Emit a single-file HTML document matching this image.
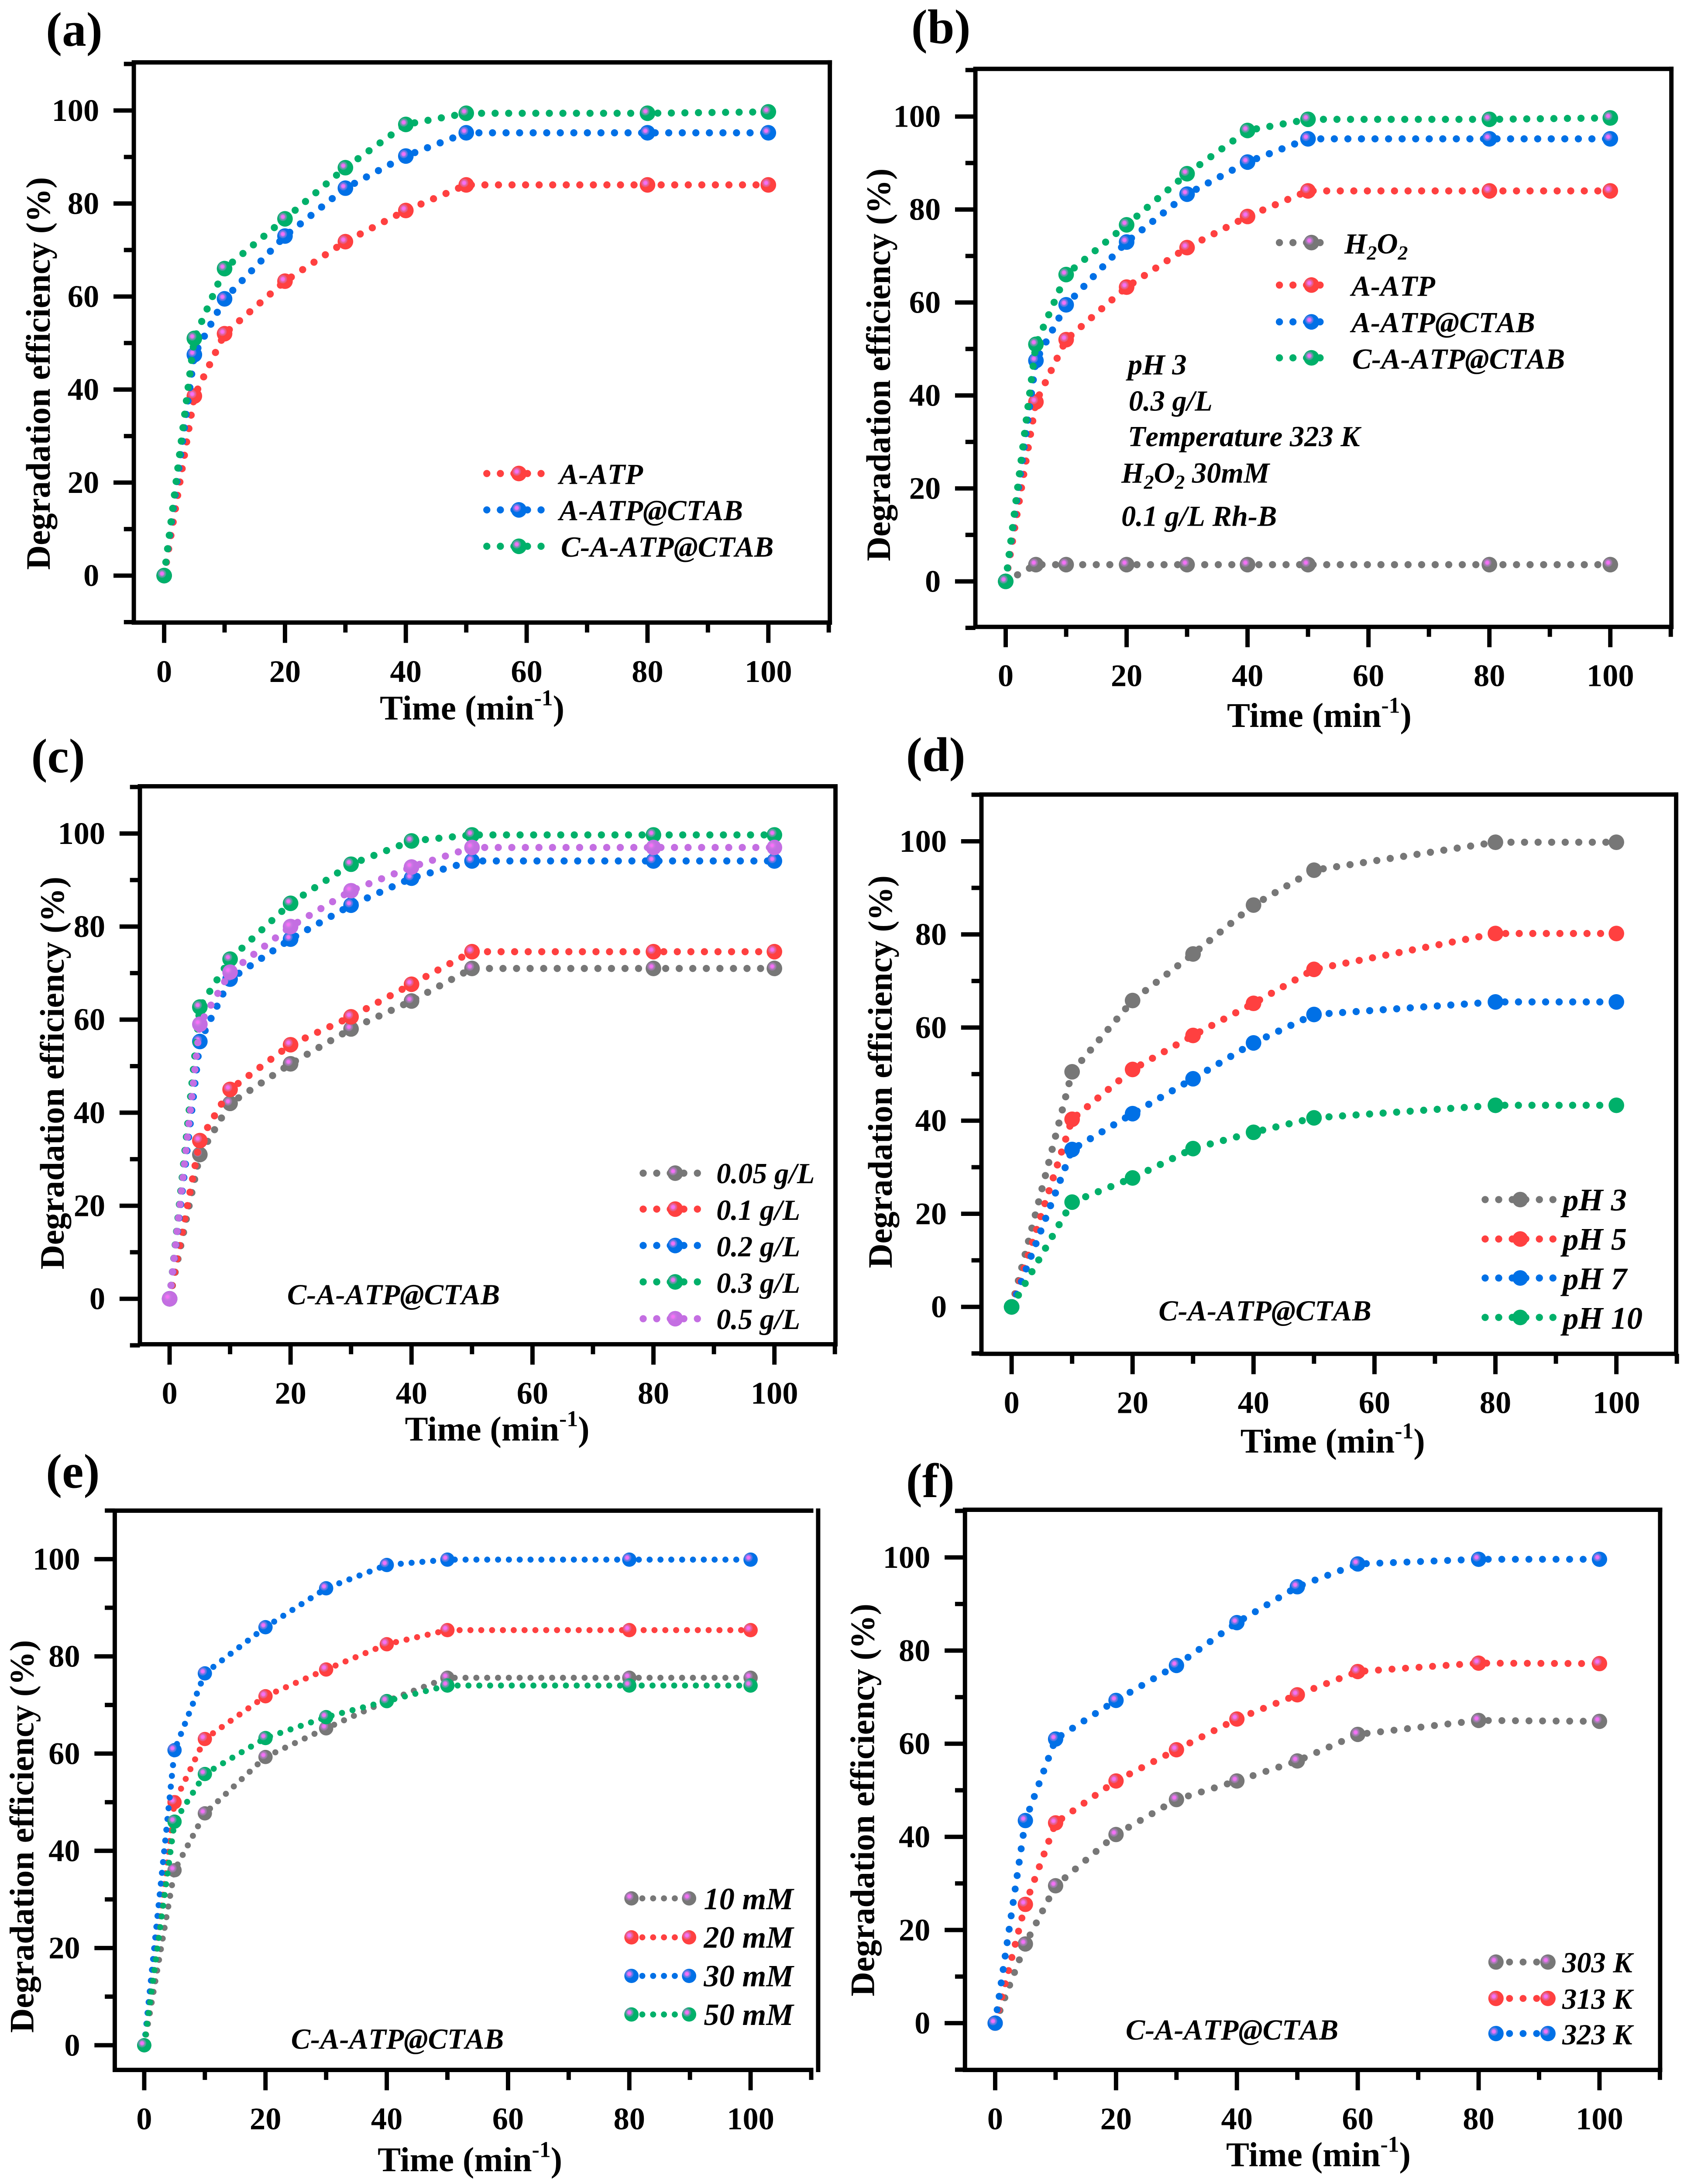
<!DOCTYPE html>
<html lang="en">
<head>
<meta charset="utf-8">
<title>Degradation efficiency panels</title>
<style>
html,body{margin:0;padding:0;background:#fff;width:100%;height:100%;overflow:hidden;}
svg{display:block;height:100vh;width:calc(100vh * 3913 / 5039);}
text{font-family:"Liberation Serif",serif;fill:#000;}
.tick{font-weight:bold;font-size:73px;}
.title{font-weight:bold;font-size:80px;}
.ytitle{font-weight:bold;font-size:78.5px;}
.plabel{font-weight:bold;font-size:112px;}
.leg{font-weight:bold;font-style:italic;font-size:67px;font-kerning:none;}
.leg-big{font-weight:bold;font-style:italic;font-size:73px;font-kerning:none;}
.leg-mid{font-weight:bold;font-style:italic;font-size:71px;font-kerning:none;}
</style>
</head>
<body>
<svg id="figure" xmlns="http://www.w3.org/2000/svg" viewBox="0 0 3913 5039" preserveAspectRatio="xMinYMin meet">
<defs>
<radialGradient id="glow">
<stop offset="0" stop-color="#ff70ff" stop-opacity="1"/>
<stop offset="0.4" stop-color="#f070f4" stop-opacity="0.95"/>
<stop offset="0.6" stop-color="#d480e4" stop-opacity="0.6"/>
<stop offset="1" stop-color="#c080e0" stop-opacity="0.25"/>
</radialGradient>
</defs>
<rect width="3913" height="5039" fill="#fff"/>
<g id="plots"></g>

<g>
<text class="plabel" x="106" y="106">(a)</text>
<text class="title" x="1090" y="1661" text-anchor="middle">Time (min<tspan font-size="52" dy="-33">-1</tspan><tspan dy="33">)</tspan></text>
<text class="ytitle" transform="translate(115 862) rotate(-90)" text-anchor="middle">Degradation efficiency (%)</text>
<text class="leg" x="1291" y="1117">A-ATP</text>
<text class="leg" x="1291" y="1201">A-ATP@CTAB</text>
<text class="leg" x="1295" y="1285">C-A-ATP@CTAB</text>
</g>

<g>
<text class="plabel" x="2104" y="100">(b)</text>
<text class="title" x="3046" y="1678" text-anchor="middle">Time (min<tspan font-size="52" dy="-33">-1</tspan><tspan dy="33">)</tspan></text>
<text class="ytitle" transform="translate(2055 842) rotate(-90)" text-anchor="middle">Degradation efficiency (%)</text>
<text class="leg" x="3104" y="585">H<tspan font-size="46" dy="14">2</tspan><tspan dy="-14">O</tspan><tspan font-size="46" dy="14">2</tspan></text>
<text class="leg" x="3120" y="683">A-ATP</text>
<text class="leg" x="3120" y="767">A-ATP@CTAB</text>
<text class="leg" x="3122" y="851">C-A-ATP@CTAB</text>
<text class="leg" x="2604" y="864">pH 3</text>
<text class="leg" x="2606" y="948">0.3 g/L</text>
<text class="leg" x="2604" y="1030">Temperature 323 K</text>
<text class="leg" x="2589" y="1114">H<tspan font-size="46" dy="14">2</tspan><tspan dy="-14">O</tspan><tspan font-size="46" dy="14">2</tspan><tspan dy="-14"> 30mM</tspan></text>
<text class="leg" x="2589" y="1214">0.1 g/L Rh-B</text>
</g>

<g>
<text class="plabel" x="72" y="1783">(c)</text>
<text class="title" x="1148" y="3325" text-anchor="middle">Time (min<tspan font-size="52" dy="-33">-1</tspan><tspan dy="33">)</tspan></text>
<text class="ytitle" transform="translate(147 2477) rotate(-90)" text-anchor="middle">Degradation efficiency (%)</text>
<text class="leg" x="1654" y="2731">0.05 g/L</text>
<text class="leg" x="1654" y="2816">0.1 g/L</text>
<text class="leg" x="1654" y="2900">0.2 g/L</text>
<text class="leg" x="1654" y="2984">0.3 g/L</text>
<text class="leg" x="1654" y="3068">0.5 g/L</text>
<text class="leg" x="663" y="3011">C-A-ATP@CTAB</text>
</g>

<g>
<text class="plabel" x="2092" y="1780">(d)</text>
<text class="title" x="3077" y="3353" text-anchor="middle">Time (min<tspan font-size="52" dy="-33">-1</tspan><tspan dy="33">)</tspan></text>
<text class="ytitle" transform="translate(2059 2474) rotate(-90)" text-anchor="middle">Degradation efficiency (%)</text>
<text class="leg-big" x="3608" y="2794">pH 3</text>
<text class="leg-big" x="3608" y="2885">pH 5</text>
<text class="leg-big" x="3608" y="2976">pH 7</text>
<text class="leg-big" x="3608" y="3067">pH 10</text>
<text class="leg" x="2675" y="3048">C-A-ATP@CTAB</text>
</g>

<g>
<text class="plabel" x="106" y="3434">(e)</text>
<text class="title" x="1085" y="5012" text-anchor="middle">Time (min<tspan font-size="52" dy="-33">-1</tspan><tspan dy="33">)</tspan></text>
<text class="ytitle" transform="translate(77 4239) rotate(-90)" text-anchor="middle">Degradation efficiency (%)</text>
<text class="leg-mid" x="1625" y="4407">10 mM</text>
<text class="leg-mid" x="1625" y="4496">20 mM</text>
<text class="leg-mid" x="1625" y="4585">30 mM</text>
<text class="leg-mid" x="1625" y="4674">50 mM</text>
<text class="leg" x="672" y="4729">C-A-ATP@CTAB</text>
</g>

<g>
<text class="plabel" x="2092" y="3456">(f)</text>
<text class="title" x="3044" y="5000" text-anchor="middle">Time (min<tspan font-size="52" dy="-33">-1</tspan><tspan dy="33">)</tspan></text>
<text class="ytitle" transform="translate(2018 4155) rotate(-90)" text-anchor="middle">Degradation efficiency (%)</text>
<text class="leg" x="3607" y="4553">303 K</text>
<text class="leg" x="3607" y="4637">313 K</text>
<text class="leg" x="3607" y="4719">323 K</text>
<text class="leg" x="2599" y="4708">C-A-ATP@CTAB</text>
</g>
</svg>

<script>
// ---- data ----
var xTickLabels = [0, 20, 40, 60, 80, 100];
var xMinorTicks = [10, 30, 50, 70, 90, 110];
var yTickLabels = [0, 20, 40, 60, 80, 100];
var yMinorTicks = [-10, 10, 30, 50, 70, 90, 110];

var timeA = [0, 5, 10, 20, 30, 40, 50, 80, 100];
var aAtpA = [0, 38.6, 52, 63.3, 71.8, 78.5, 84, 84, 84];
var aCtabA = [0, 47.5, 59.5, 73, 83.3, 90.2, 95.2, 95.2, 95.2];
var cCtabA = [0, 51, 66, 76.7, 87.7, 97, 99.4, 99.4, 99.7];

var timeB = [0, 5, 10, 20, 30, 40, 50, 80, 100];
var h2o2B = [0, 3.6, 3.6, 3.6, 3.6, 3.6, 3.6, 3.6, 3.6];
var aAtpB = [0, 38.6, 52, 63.3, 71.8, 78.5, 84, 84, 84];
var aCtabB = [0, 47.5, 59.5, 73, 83.3, 90.2, 95.2, 95.2, 95.2];
var cCtabB = [0, 51, 66, 76.7, 87.7, 97, 99.4, 99.4, 99.7];

var timeC = [0, 5, 10, 20, 30, 40, 50, 80, 100];
var dose005 = [0, 31, 42, 50.5, 58, 64, 71, 71, 71];
var dose01 = [0, 34, 45, 54.6, 60.6, 67.6, 74.6, 74.6, 74.6];
var dose02 = [0, 55.3, 68.7, 77.3, 84.6, 90.4, 94.1, 94.1, 94.1];
var dose03 = [0, 62.7, 73, 85, 93.4, 98.4, 99.7, 99.7, 99.7];
var dose05 = [0, 59, 70.2, 80, 87.7, 92.8, 97, 97, 97];

var timeD = [0, 10, 20, 30, 40, 50, 80, 100];
var ph3 = [0, 50.5, 65.8, 75.8, 86.3, 93.8, 99.8, 99.8];
var ph5 = [0, 40.3, 51, 58.3, 65.2, 72.5, 80.2, 80.2];
var ph7 = [0, 33.8, 41.5, 49, 56.7, 62.8, 65.5, 65.5];
var ph10 = [0, 22.5, 27.7, 34, 37.5, 40.6, 43.3, 43.3];

var timeE = [0, 5, 10, 20, 30, 40, 50, 80, 100];
var mm10 = [0, 36, 47.7, 59.3, 65.2, 70.8, 75.6, 75.6, 75.6];
var mm20 = [0, 50, 63, 71.8, 77.3, 82.5, 85.4, 85.4, 85.4];
var mm30 = [0, 60.7, 76.5, 86, 94, 98.8, 99.9, 99.9, 99.9];
var mm50 = [0, 46, 55.8, 63.2, 67.5, 70.8, 74, 74, 74];

var timeF = [0, 5, 10, 20, 30, 40, 50, 60, 80, 100];
var k303 = [0, 17, 29.5, 40.5, 48, 52, 56.3, 62, 65, 64.8];
var k313 = [0, 25.5, 43, 52, 58.7, 65.3, 70.5, 75.5, 77.3, 77.2];
var k323 = [0, 43.5, 61, 69.3, 76.8, 86, 93.7, 98.6, 99.6, 99.6];

// ---- styles ----
var GRAY = '#777777', RED = '#ff4040', BLUE = '#0070e6', GREEN = '#00b06a', PURPLE = '#c46ee2';

// ---- panel layout ----
var panels = [
 {id:'a', L:309, R:1916, T:144, B:1437, x0:379, x100:1774, y0:1328.7, y100:255, glow:true, dot:16.5, pitch:31.3, mr:18,
  time:timeA, series:[{n:'a-atp',c:RED,v:aAtpA},{n:'a-atp-ctab',c:BLUE,v:aCtabA},{n:'c-a-atp-ctab',c:GREEN,v:cCtabA}],
  key:{x1:1124,x2:1251,m:[1198],y:[1093,1177,1261]}},
 {id:'b', L:2252, R:3859, T:159, B:1447, x0:2322, x100:3718, y0:1342, y100:269, glow:true, dot:16.5, pitch:31.3, mr:18,
  time:timeB, series:[{n:'h2o2',c:GRAY,v:h2o2B},{n:'a-atp',c:RED,v:aAtpB},{n:'a-atp-ctab',c:BLUE,v:aCtabB},{n:'c-a-atp-ctab',c:GREEN,v:cCtabB}],
  key:{x1:2954,x2:3078,m:[3028],y:[560,658,743,826]}},
 {id:'c', L:323, R:1929, T:1815, B:3103, x0:391.6, x100:1788, y0:2998, y100:1924, glow:true, dot:16.5, pitch:31.3, mr:18,
  time:timeC, series:[{n:'dose-0-05',c:GRAY,v:dose005},{n:'dose-0-1',c:RED,v:dose01},{n:'dose-0-2',c:BLUE,v:dose02},{n:'dose-0-3',c:GREEN,v:dose03},{n:'dose-0-5',c:PURPLE,v:dose05}],
  key:{x1:1485,x2:1612,m:[1559],y:[2708,2791,2875,2959,3044]}},
 {id:'d', L:2266, R:3870, T:1834, B:3125, x0:2335.7, x100:3732, y0:3016.7, y100:1942, glow:false, dot:16.5, pitch:31.3, mr:18,
  time:timeD, series:[{n:'ph-3',c:GRAY,v:ph3},{n:'ph-5',c:RED,v:ph5},{n:'ph-7',c:BLUE,v:ph7},{n:'ph-10',c:GREEN,v:ph10}],
  key:{x1:3429,x2:3586,m:[3510],y:[2769,2860,2950,3041]}},
 {id:'e', L:265, R:1889, Rtop:1878, T:3487, B:4778, x0:333, x100:1733, y0:4721, y100:3599, glow:true, noBottomTick:true, dot:14, pitch:25, mr:16.5,
  time:timeE, series:[{n:'mm-10',c:GRAY,v:mm10},{n:'mm-20',c:RED,v:mm20},{n:'mm-30',c:BLUE,v:mm30},{n:'mm-50',c:GREEN,v:mm50}],
  key:{x1:1458,x2:1591,m:[1458,1591],y:[4382,4472,4561,4650]}},
 {id:'f', L:2228, R:3833, T:3485, B:4778, x0:2297.7, x100:3693, y0:4670, y100:3595, glow:true, dot:16, pitch:31.3, mr:17.7,
  time:timeF, series:[{n:'k-303',c:GRAY,v:k303},{n:'k-313',c:RED,v:k313},{n:'k-323',c:BLUE,v:k323}],
  key:{x1:3454,x2:3574,m:[3454,3574],y:[4529,4613,4694]}}
];

var NS = 'http://www.w3.org/2000/svg';
var root = document.getElementById('plots');
function node(tag, parent, attrs) {
  var el = document.createElementNS(NS, tag);
  for (var k in attrs) { el.setAttribute(k, attrs[k]); }
  parent.appendChild(el);
  return el;
}
function xScale(p, v) { return p.x0 + v * (p.x100 - p.x0) / 100; }
function yScale(p, v) { return p.y0 + v * (p.y100 - p.y0) / 100; }

function drawMarker(parent, cx, cy, r, color, glow, name) {
  var dot = node('circle', parent, {cx: cx, cy: cy, r: r, fill: color});
  
  
  if (glow) {
    var hi = node('circle', parent, {cx: cx - 5, cy: cy - 4.7, r: 10, fill: 'url(#glow)'});
    
    
  }
}

panels.forEach(function (p) {
  var g = node('g', root, {});
  
  

  // frame
  var right = p.Rtop ? p.Rtop : p.R + 5;
  var frame = node('path', g, {d: 'M' + right + ' ' + p.T + 'H' + p.L + 'V' + p.B + 'H' + right, fill: 'none', stroke: '#000', 'stroke-width': 10});
  
  
  var rightEdge = node('line', g, {x1: p.R, x2: p.R, y1: p.T - 5, y2: p.B + 5, stroke: '#000', 'stroke-width': 10});
  
  

  // x ticks
  xTickLabels.forEach(function (v) {
    var t = node('line', g, {x1: xScale(p, v), x2: xScale(p, v), y1: p.B, y2: p.B + 47, stroke: '#000', 'stroke-width': 10});
    
    
    var lab = node('text', g, {x: xScale(p, v), y: p.B + 137, 'text-anchor': 'middle', 'class': 'tick'});
    
    
    lab.textContent = v;
  });
  xMinorTicks.forEach(function (v) {
    var t = node('line', g, {x1: xScale(p, v), x2: xScale(p, v), y1: p.B, y2: p.B + 23, stroke: '#000', 'stroke-width': 10});
    
    
  });

  // y ticks
  yTickLabels.forEach(function (v) {
    var t = node('line', g, {x1: p.L - 47, x2: p.L, y1: yScale(p, v), y2: yScale(p, v), stroke: '#000', 'stroke-width': 10});
    
    
    var lab = node('text', g, {x: p.L - 80, y: yScale(p, v) + 24, 'text-anchor': 'end', 'class': 'tick'});
    
    
    lab.textContent = v;
  });
  yMinorTicks.forEach(function (v) {
    if (v < 0 && p.noBottomTick) { return; }
    var t = node('line', g, {x1: p.L - 23, x2: p.L, y1: yScale(p, v), y2: yScale(p, v), stroke: '#000', 'stroke-width': 10});
    
    
  });

  // series
  var dash = '0 ' + p.pitch;
  p.series.forEach(function (s, si) {
    var pts = s.v.map(function (v, i) { return xScale(p, p.time[i]) + ',' + yScale(p, v); }).join(' ');
    var line = node('polyline', g, {points: pts, fill: 'none', stroke: s.c, 'stroke-width': p.dot, 'stroke-linecap': 'round', 'stroke-dasharray': dash});
    
    
    s.v.forEach(function (v, i) {
      drawMarker(g, xScale(p, p.time[i]), yScale(p, v), p.mr, s.c, p.glow, 'point-' + s.n);
    });

    // legend key
    var ky = p.key.y[si];
    var keyLine = node('line', g, {x1: p.key.x1, x2: p.key.x2 + 1, y1: ky, y2: ky, stroke: s.c, 'stroke-width': p.dot, 'stroke-linecap': 'round', 'stroke-dasharray': dash});
    
    
    p.key.m.forEach(function (mx) {
      drawMarker(g, mx, ky, p.mr, s.c, p.glow, 'legend-marker-' + s.n);
    });
  });
});
</script>
</body>
</html>
